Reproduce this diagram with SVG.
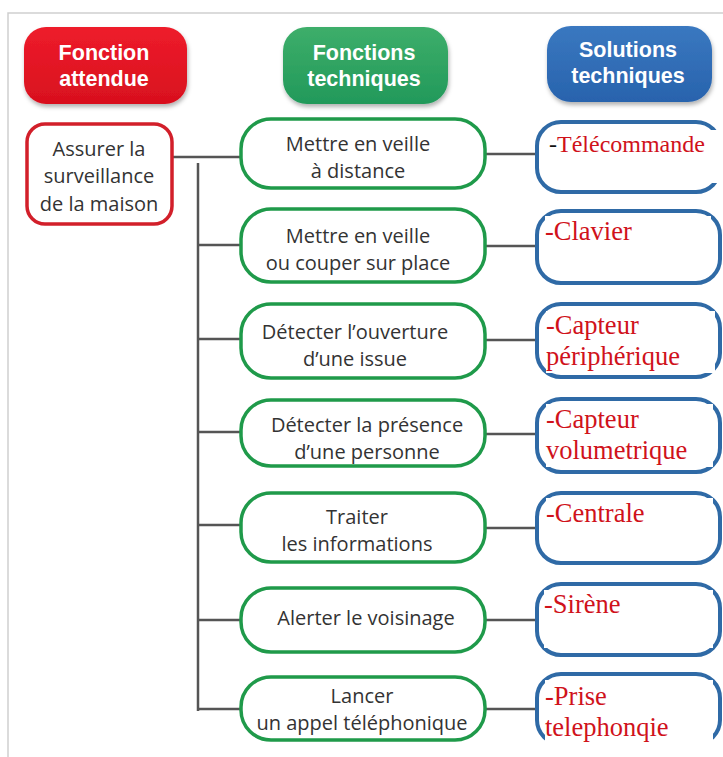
<svg xmlns="http://www.w3.org/2000/svg" width="723" height="757" viewBox="0 0 723 757">
<style>
.hdr{font-family:"Liberation Sans",Arial,sans-serif;font-weight:bold;font-size:21.5px;fill:#ffffff;text-anchor:middle}
.txt{font-family:"Open Sans","Liberation Sans",sans-serif;font-size:20px;fill:#333333;text-anchor:middle}
.sol{font-family:"Liberation Serif","Times New Roman",serif;font-size:26.5px;fill:#d0121b}
.fn{fill:#ffffff;stroke:#1f9a4a;stroke-width:3.5}
.so{fill:#ffffff;stroke:#2f6aa6;stroke-width:4}
.wh{fill:#ffffff}
.ln{stroke:#555555;stroke-width:2.5;fill:none}
</style>
<defs>
<filter id="sh" x="-10%" y="-10%" width="125%" height="130%">
<feDropShadow dx="1" dy="3" stdDeviation="2" flood-color="#000" flood-opacity="0.3"/>
</filter>
<linearGradient id="gr" x1="0" y1="0" x2="0" y2="1"><stop offset="0" stop-color="#ee1c2b"/><stop offset="1" stop-color="#d8101e"/></linearGradient>
<linearGradient id="gg" x1="0" y1="0" x2="0" y2="1"><stop offset="0" stop-color="#3dae6a"/><stop offset="1" stop-color="#22995a"/></linearGradient>
<linearGradient id="gb" x1="0" y1="0" x2="0" y2="1"><stop offset="0" stop-color="#3a78c0"/><stop offset="1" stop-color="#2863ad"/></linearGradient>
</defs>
<rect width="723" height="757" fill="#ffffff"/>
<path d="M8 757 V13 H723" fill="none" stroke="#cfcfcf" stroke-width="1.5"/>

<g id="connectors">
<line class="ln" x1="172" y1="157" x2="241" y2="157"/>
<line class="ln" x1="198" y1="163" x2="198" y2="711"/>
<line class="ln" x1="198" y1="245" x2="241" y2="245"/>
<line class="ln" x1="198" y1="339" x2="241" y2="339"/>
<line class="ln" x1="198" y1="432" x2="241" y2="432"/>
<line class="ln" x1="198" y1="525" x2="241" y2="525"/>
<line class="ln" x1="198" y1="620" x2="241" y2="620"/>
<line class="ln" x1="197" y1="709" x2="243" y2="709"/>
<line class="ln" x1="485" y1="154" x2="537" y2="154"/>
<line class="ln" x1="485" y1="246" x2="537" y2="246"/>
<line class="ln" x1="485" y1="340" x2="537" y2="340"/>
<line class="ln" x1="485" y1="434" x2="537" y2="434"/>
<line class="ln" x1="485" y1="528" x2="537" y2="528"/>
<line class="ln" x1="485" y1="620" x2="537" y2="620"/>
<line class="ln" x1="485" y1="709" x2="537" y2="709"/>
</g>

<g id="hdr-fonction-attendue">
<rect x="24" y="27" width="163" height="77" rx="22" fill="url(#gr)" filter="url(#sh)"/>
<text class="hdr" x="104" y="60">Fonction</text>
<text class="hdr" x="104" y="86">attendue</text>
</g>
<g id="hdr-fonctions-techniques">
<rect x="283" y="27" width="165" height="77" rx="24" fill="url(#gg)" filter="url(#sh)"/>
<text class="hdr" x="364" y="60">Fonctions</text>
<text class="hdr" x="364" y="86">techniques</text>
</g>
<g id="hdr-solutions-techniques">
<rect x="547" y="26" width="165" height="76" rx="24" fill="url(#gb)" filter="url(#sh)"/>
<text class="hdr" x="628" y="57">Solutions</text>
<text class="hdr" x="628" y="83">techniques</text>
</g>

<g id="fa-assurer">
<rect x="27" y="124" width="145" height="100" rx="18" fill="#ffffff" stroke="#d21f2a" stroke-width="3.5"/>
<text class="txt" x="99" y="156">Assurer la</text>
<text class="txt" x="99" y="183">surveillance</text>
<text class="txt" x="99" y="211">de la maison</text>
</g>

<g id="ft1">
<rect class="fn" x="241" y="119" width="244" height="69" rx="30"/>
<text class="txt" x="358" y="151">Mettre en veille</text>
<text class="txt" x="358" y="178">à distance</text>
</g>
<g id="ft2">
<rect class="fn" x="241" y="209" width="244" height="73" rx="30"/>
<text class="txt" x="358" y="243">Mettre en veille</text>
<text class="txt" x="358" y="270">ou couper sur place</text>
</g>
<g id="ft3">
<rect class="fn" x="241" y="304" width="244" height="74" rx="30"/>
<text class="txt" x="355" y="339">Détecter l’ouverture</text>
<text class="txt" x="355" y="366">d’une issue</text>
</g>
<g id="ft4">
<rect class="fn" x="241" y="400" width="244" height="66" rx="30"/>
<text class="txt" x="367" y="432">Détecter la présence</text>
<text class="txt" x="367" y="459">d’une personne</text>
</g>
<g id="ft5">
<rect class="fn" x="241" y="493" width="244" height="69" rx="30"/>
<text class="txt" x="357" y="524">Traiter</text>
<text class="txt" x="357" y="551">les informations</text>
</g>
<g id="ft6">
<rect class="fn" x="241" y="588" width="244" height="64" rx="30"/>
<text class="txt" x="366" y="625">Alerter le voisinage</text>
</g>
<g id="ft7">
<rect class="fn" x="241" y="677" width="244" height="63" rx="30"/>
<text class="txt" x="362" y="703">Lancer</text>
<text class="txt" x="362" y="730">un appel téléphonique</text>
</g>

<g id="st1">
<rect class="so" x="537" y="122" width="183" height="70" rx="24"/>
<rect class="wh" x="550" y="130" width="172" height="53"/>
<text class="sol" x="549" y="152" style="font-size:24px"><tspan fill="#111111">-</tspan>Télécommande</text>
</g>
<g id="st2">
<rect class="so" x="537" y="211" width="183" height="72" rx="24"/>
<rect class="wh" x="545" y="216" width="166" height="31"/>
<text class="sol" x="545" y="240">-Clavier</text>
</g>
<g id="st3">
<rect class="so" x="537" y="304" width="183" height="73" rx="24"/>
<rect class="wh" x="546" y="311" width="169" height="62"/>
<text class="sol" x="546" y="334">-Capteur</text>
<text class="sol" x="546" y="365">périphérique</text>
</g>
<g id="st4">
<rect class="so" x="537" y="399" width="183" height="73" rx="24"/>
<rect class="wh" x="546" y="404" width="167" height="63"/>
<text class="sol" x="546" y="428">-Capteur</text>
<text class="sol" x="546" y="459">volumetrique</text>
</g>
<g id="st5">
<rect class="so" x="537" y="493" width="183" height="70" rx="24"/>
<rect class="wh" x="546" y="498" width="167" height="32"/>
<text class="sol" x="546" y="522">-Centrale</text>
</g>
<g id="st6">
<rect class="so" x="537" y="584" width="183" height="71" rx="24"/>
<rect class="wh" x="544" y="590" width="169" height="58"/>
<text class="sol" x="544" y="613">-Sirène</text>
</g>
<g id="st7">
<rect class="so" x="537" y="674" width="183" height="70" rx="24"/>
<rect class="wh" x="545" y="680" width="168" height="66"/>
<text class="sol" x="545" y="705">-Prise</text>
<text class="sol" x="545" y="736">telephonqie</text>
</g>
</svg>
